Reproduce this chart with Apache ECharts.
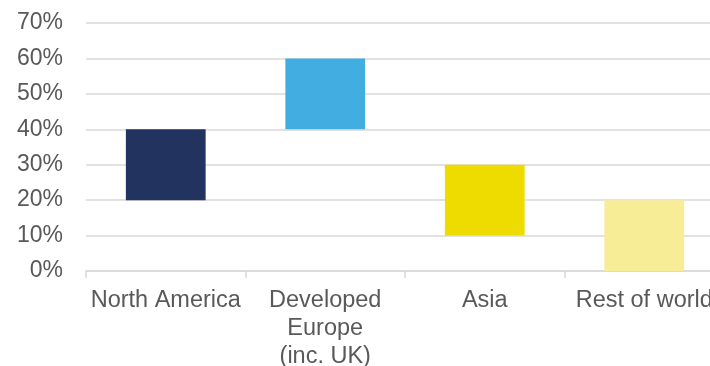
<!DOCTYPE html>
<html>
<head>
<meta charset="utf-8">
<script src="https://cdn.jsdelivr.net/npm/echarts@6/dist/echarts.min.js"></script>
<style>
  html, body { margin: 0; padding: 0; background: #fff; overflow: hidden; width: 710px; height: 366px; }
  #frame { position: relative; width: 710px; height: 366px; overflow: hidden; }
  #chart { position: absolute; left: 0; top: 0; width: 724px; height: 366px; }
</style>
</head>
<body>
<div id="frame"><div id="chart"></div></div>
<script>
// Regional allocation ranges (low / high share of portfolio)
const regions = ['North America', 'Developed\nEurope\n(inc. UK)', 'Asia', 'Rest of world'];
const rangeLow = [0.20, 0.40, 0.10, 0.00];
const rangeHigh = [0.40, 0.60, 0.30, 0.20];
const barColors = ['#22335f', '#41ade1', '#eedc00', '#f6ed96'];
const yTicks = [0, 0.1, 0.2, 0.3, 0.4, 0.5, 0.6, 0.7];

const chart = echarts.init(document.getElementById('chart'), null, { renderer: 'canvas' });
const font = '"Liberation Sans", Arial, sans-serif';

chart.setOption({
  animation: false,
  grid: { left: 86, right: 0, top: 23, bottom: 95, containLabel: false, outerBoundsMode: 'none' },
  xAxis: {
    type: 'category',
    data: regions,
    axisLine: { show: true, lineStyle: { color: '#d9d9d9', width: 1.5 } },
    axisTick: { show: true, length: 7, lineStyle: { color: '#d9d9d9', width: 1.5 } },
    axisLabel: {
      color: '#595959', fontSize: 23.5, fontFamily: font, lineHeight: 28,
      margin: 16, interval: 0
    }
  },
  yAxis: {
    type: 'value',
    min: yTicks[0],
    max: yTicks[yTicks.length - 1],
    interval: 0.1,
    axisLine: { show: false },
    axisTick: { show: false },
    splitLine: { lineStyle: { color: '#d9d9d9', width: 1.5 } },
    axisLabel: {
      color: '#595959', fontSize: 23, fontFamily: font, margin: 23,
      formatter: v => Math.round(v * 100) + '%'
    }
  },
  series: [
    {
      type: 'bar',
      stack: 'range',
      barWidth: '50%',
      itemStyle: { color: 'transparent' },
      emphasis: { disabled: true },
      data: rangeLow
    },
    {
      type: 'bar',
      stack: 'range',
      barWidth: '50%',
      emphasis: { disabled: true },
      data: rangeHigh.map((h, i) => ({
        value: +(h - rangeLow[i]).toFixed(4),
        itemStyle: { color: barColors[i] }
      }))
    }
  ]
});
</script>
</body>
</html>
